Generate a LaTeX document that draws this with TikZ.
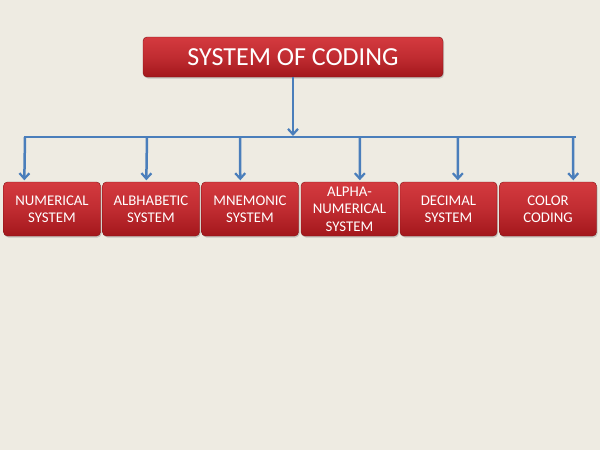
\documentclass[tikz,border=0pt]{standalone}
\usepackage{fontspec}
\setmainfont{Carlito}
\usetikzlibrary{arrows.meta}
\usetikzlibrary{shadows}
\definecolor{bgbeige}{HTML}{EEEBE2}
\definecolor{boxtop}{HTML}{D43A3F}
\definecolor{boxbot}{HTML}{A3171C}
\definecolor{linkblue}{HTML}{4A7EBB}
\tikzset{
 codebox/.style={rounded corners=4pt, draw=boxbot!80!black, line width=.4pt,
  top color=boxtop, bottom color=boxbot, middle color=boxtop!60!boxbot, text=white, align=center,
  drop shadow={shadow xshift=1pt, shadow yshift=-1.5pt, opacity=.35},
  inner sep=0pt},
 link/.style={linkblue, line width=2.5pt, -{Straight Barb[length=5.5pt,width=10pt,line width=2.2pt]}}
}

\begin{document}
\begin{tikzpicture} [x=1pt,y=-1pt]
\fill[bgbeige] (0,0) rectangle (600,450);
\useasboundingbox (0,0) rectangle (600,450);
\node[codebox, minimum width=300pt, minimum height=40pt, font=\fontsize{26}{30}\selectfont] (root) at (293,57) {SYSTEM OF CODING};
\foreach \nm/\cx/\txt in {num/52/{NUMERICAL\\SYSTEM}, alb/151/{ALBHABETIC\\SYSTEM}, mne/250/{MNEMONIC\\SYSTEM}, alp/349.5/{ALPHA-\\NUMERICAL\\SYSTEM}, dec/448.5/{DECIMAL\\SYSTEM}, col/548/{COLOR\\CODING}}
 \node[codebox, minimum width=97pt, minimum height=54pt, font=\fontsize{14.8}{17.5}\selectfont] (\nm) at (\cx,209) {\txt};
% horizontal bar
\coordinate (barL) at (25,137);
\coordinate (barR) at (575,137);
\coordinate (barM) at (293,136);
\draw[linkblue, line width=2.5pt, line cap=rect] (barL)--(barR);
\draw[link] (root.south)--(barM);
\foreach \nm/\dx/\bx in {num/21/25, alb/44/147, mne/39/240, alp/59/360, dec/58/458, col/74/573} {
 \coordinate (b\nm) at (\bx,137);
 \draw[link, shorten >=1.5pt] (b\nm)--([xshift=\dx pt]\nm.north west);
 }
\end{tikzpicture}
\end{document}
